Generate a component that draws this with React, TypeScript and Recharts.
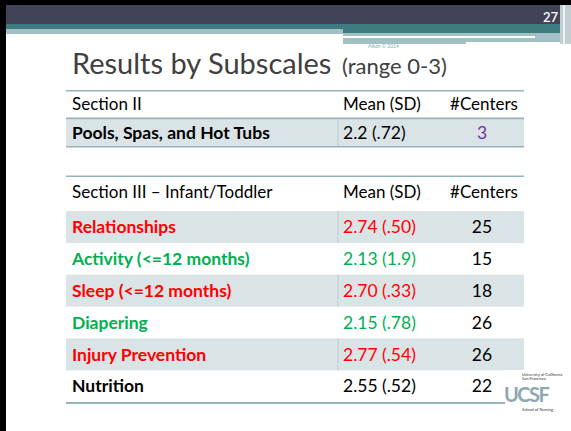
import { BarChart, Bar, XAxis, YAxis, LabelList } from 'recharts';

const FONT = 'Lato, "Open Sans", sans-serif';

const COLORS: Record<string, string> = {
  red: '#ff0000',
  green: '#00b050',
  black: '#000000',
  purple: '#7030a0',
};

// Section II
const poolLabels = ['Pools, Spas, and Hot Tubs'];
const poolMeans = ['2.2 (.72)'];
const poolCenters = ['3'];
const poolTone = ['black'];
const poolCenterTone = ['purple'];
const poolShade = [1];

// Section III – Infant/Toddler
const infantLabels = [
  'Relationships',
  'Activity (<=12 months)',
  'Sleep (<=12 months)',
  'Diapering',
  'Injury Prevention',
  'Nutrition',
];
const infantMeans = ['2.74 (.50)', '2.13 (1.9)', '2.70 (.33)', '2.15 (.78)', '2.77 (.54)', '2.55 (.52)'];
const infantCenters = ['25', '15', '18', '26', '26', '22'];
const infantTone = ['red', 'green', 'red', 'green', 'red', 'black'];
const infantCenterTone = ['black', 'black', 'black', 'black', 'black', 'black'];
const infantShade = [1, 0, 1, 0, 1, 0];

const headerCols = ['Mean (SD)', '#Centers'];

type Row = {
  name: string;
  mean: string;
  centers: string;
  tone: string;
  centerTone: string;
  shade: number;
};

function buildRows(labels: string[], means: string[], centers: string[], tone: string[], centerTone: string[], shade: number[]): Row[] {
  return labels.map((name, i) => ({
    name,
    mean: means[i],
    centers: centers[i],
    tone: tone[i],
    centerTone: centerTone[i],
    shade: shade[i],
  }));
}

const poolRows = buildRows(poolLabels, poolMeans, poolCenters, poolTone, poolCenterTone, poolShade);
const infantRows = buildRows(infantLabels, infantMeans, infantCenters, infantTone, infantCenterTone, infantShade);

const TABLE_W = 458;
const COL2 = 277; // table-local x of mean column
const COL3 = 416; // table-local centre of #Centers column
const DIVIDER = 272;

function ShadeShape(props: any) {
  const { x, y, height, payload } = props;
  if (!payload || !payload.shade) return <g />;
  return (
    <g>
      <rect x={x} y={y} width={TABLE_W} height={height} fill="#dae4e7" />
      <line x1={x + DIVIDER} x2={x + DIVIDER} y1={y} y2={y + height} stroke="#b9ccd0" strokeWidth={1} />
    </g>
  );
}

function makeRowLabel(rows: Row[]) {
  return function RowLabel(props: any) {
    const { y, height, index } = props;
    const row = rows[index];
    if (!row) return <g />;
    const cy = Number(y) + Number(height) / 2;
    const fill = COLORS[row.tone];
    return (
      <g fontFamily={FONT} fontSize={17.5}>
        <text x={6} y={cy} dy="0.36em" fill={fill} fontWeight={700}>
          {row.name}
        </text>
        <text x={COL2} y={cy} dy="0.36em" fill={fill}>
          {row.mean}
        </text>
        <text x={COL3} y={cy} dy="0.36em" fill={COLORS[row.centerTone]} textAnchor="middle">
          {row.centers}
        </text>
      </g>
    );
  };
}

function TableChart({ rows, top, height }: { rows: Row[]; top: number; height: number }) {
  return (
    <div style={{ position: 'absolute', left: 66, top, width: TABLE_W, height }}>
      <BarChart
        width={TABLE_W}
        height={height}
        data={rows}
        layout="vertical"
        margin={{ top: 0, right: 0, bottom: 0, left: 0 }}
        barCategoryGap={0}
        barGap={0}
      >
        <XAxis type="number" domain={[0, 1]} hide />
        <YAxis type="category" dataKey="name" hide />
        <Bar dataKey="shade" isAnimationActive={false} shape={ShadeShape}>
          <LabelList dataKey="name" content={makeRowLabel(rows)} />
        </Bar>
      </BarChart>
    </div>
  );
}

function Header({ title, y }: { title: string; y: number }) {
  return (
    <g fontFamily={FONT} fontSize={17} fill="#000">
      <text x={72} y={y} dy="0.36em">{title}</text>
      <text x={66 + COL2} y={y} dy="0.36em">{headerCols[0]}</text>
      <text x={66 + COL3 + 2} y={y} dy="0.36em" textAnchor="middle">{headerCols[1]}</text>
    </g>
  );
}

export default function App() {
  return (
    <div style={{ position: 'absolute', left: 0, top: 0, width: 571, height: 431, background: '#fff', overflow: 'hidden' }}>
      <svg width={571} height={431} style={{ position: 'absolute', left: 0, top: 0 }}>
        {/* slide frame and banner */}
        <rect x={0} y={0} width={571} height={5} fill="#000" />
        <rect x={0} y={0} width={6} height={431} fill="#000" />
        <rect x={6} y={5} width={565} height={19} fill="#414359" />
        <rect x={6} y={24} width={554} height={5} fill="#3e7b80" />
        <rect x={6} y={29} width={337} height={5} fill="#a3c1c4" />
        <rect x={343} y={29} width={217} height={4} fill="#3e7b80" />
        <rect x={343} y={33} width={217} height={3} fill="#a3c1c4" />
        <rect x={343} y={38} width={123} height={6} fill="#a3c1c4" />
        <rect x={466} y={38} width={94} height={4} fill="#a3c1c4" />
        <rect x={535} y={36} width={25} height={2} fill="#a3c1c4" />
        <rect x={560} y={5} width={11} height={39} fill="#c3ced1" />
        <rect x={563} y={5} width={2} height={39} fill="#eef2f3" />
        <text x={543} y={22} fill="#fff" fontFamily={FONT} fontSize={13} fontWeight={600}>27</text>

        {/* title */}
        <text x={368} y={48} fill="#7aaeb0" fontFamily={FONT} fontSize={5}>Alkon © 2014</text>
        <text x={72} y={74} fill="#404040" fontFamily={FONT} fontSize={29}>Results by Subscales</text>
        <text x={342} y={74} fill="#404040" fontFamily={FONT} fontSize={22}>(range 0-3)</text>

        {/* table rules */}
        <rect x={66} y={90} width={TABLE_W} height={1.5} fill="#93b4b9" />
        <rect x={66} y={117.5} width={TABLE_W} height={2} fill="#93b4b9" />
        <rect x={66} y={145.5} width={TABLE_W} height={2} fill="#93b4b9" />
        <Header title="Section II" y={104} />

        <rect x={66} y={175.5} width={TABLE_W} height={1.5} fill="#93b4b9" />
        <rect x={66} y={402} width={TABLE_W} height={2} fill="#93b4b9" />
        <Header title="Section III – Infant/Toddler" y={192} />
      </svg>

      <TableChart rows={poolRows} top={119.5} height={26} />
      <TableChart rows={infantRows} top={211} height={191} />

      {/* UCSF logo */}
      <svg width={571} height={431} style={{ position: 'absolute', left: 0, top: 0, pointerEvents: 'none' }}>
        <rect x={505} y={370} width={58} height={50} fill="#fff" />
        <text x={522} y={376} fontFamily={FONT} fontSize={4} fill="#333">University of California</text>
        <text x={522} y={380} fontFamily={FONT} fontSize={4} fill="#333">San Francisco</text>
        <text x={504} y={402} fontFamily={FONT} fontSize={20} fontWeight={700} fill="#8ea9b1" letterSpacing={-1.5}>UCSF</text>
        <text x={522} y={411} fontFamily={FONT} fontSize={4} fill="#333">School of Nursing</text>
      </svg>
    </div>
  );
}
